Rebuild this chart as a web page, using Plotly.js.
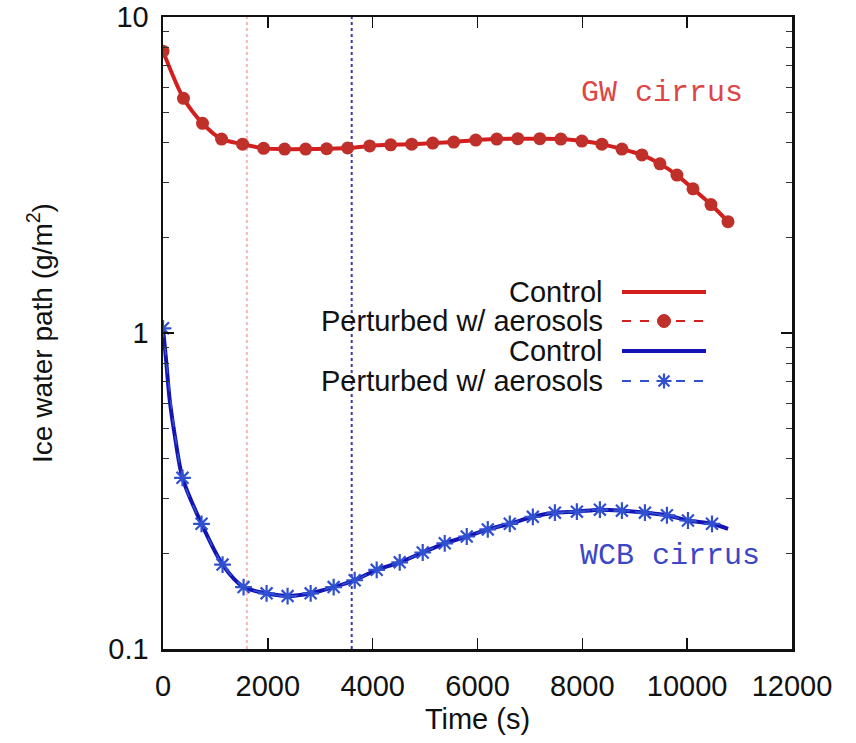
<!DOCTYPE html>
<html>
<head>
<meta charset="utf-8">
<script src="https://cdn.plot.ly/plotly-3.0.1.min.js"></script>
<style>html,body{margin:0;padding:0;background:#fff;}#chart{width:856px;height:743px;}</style>
</head>
<body>
<div id="chart"></div>
<script>
// ---- Data ----
const gwTime = [0, 391, 754, 1117, 1518, 1919, 2320, 2721, 3122, 3523, 3943, 4344, 4745, 5146, 5547, 5967, 6368, 6769, 7189, 7590, 7991, 8373, 8755, 9137, 9481, 9805, 10111, 10454, 10779];
const gwControl = [7.8, 5.53, 4.61, 4.11, 3.96, 3.84, 3.82, 3.82, 3.83, 3.85, 3.91, 3.94, 3.96, 3.99, 4.02, 4.08, 4.11, 4.12, 4.12, 4.11, 4.05, 3.96, 3.82, 3.66, 3.43, 3.16, 2.86, 2.55, 2.25];
const gwPerturbed = [7.8, 5.53, 4.61, 4.11, 3.96, 3.84, 3.82, 3.82, 3.83, 3.85, 3.91, 3.94, 3.96, 3.99, 4.02, 4.08, 4.11, 4.12, 4.12, 4.11, 4.05, 3.96, 3.82, 3.66, 3.43, 3.16, 2.86, 2.55, 2.25];

const wcbControlTime = [0, 61, 124, 220, 372, 735, 1136, 1537, 1976, 2377, 2817, 3256, 3657, 4077, 4516, 4955, 5375, 5795, 6196, 6616, 7056, 7476, 7896, 8335, 8755, 9194, 9614, 10015, 10474, 10780];
const wcbControl = [1.035, 0.815, 0.622, 0.48, 0.348, 0.249, 0.185, 0.157, 0.150, 0.147, 0.150, 0.157, 0.165, 0.178, 0.188, 0.202, 0.216, 0.227, 0.239, 0.249, 0.262, 0.270, 0.272, 0.276, 0.274, 0.270, 0.265, 0.255, 0.249, 0.240];
const wcbPertTime = [0, 372, 735, 1136, 1537, 1976, 2377, 2817, 3256, 3657, 4077, 4516, 4955, 5375, 5795, 6196, 6616, 7056, 7476, 7896, 8335, 8755, 9194, 9614, 10015, 10474];
const wcbPerturbed = [1.035, 0.348, 0.249, 0.185, 0.157, 0.150, 0.147, 0.150, 0.157, 0.165, 0.178, 0.188, 0.202, 0.216, 0.227, 0.239, 0.249, 0.262, 0.270, 0.272, 0.276, 0.274, 0.270, 0.265, 0.255, 0.249];

const refTimes = [1600, 3600];           // vertical dotted reference lines
const refColors = ['#f3b8b8', '#3a3aa8'];
const xTickVals = [0, 2000, 4000, 6000, 8000, 10000, 12000];
const yMajorTicks = [0.1, 1, 10];
const yMajorText = ['0.1', '1', '10'];
const yMinorTicks = [0.2, 0.3, 0.4, 0.5, 0.6, 0.7, 0.8, 0.9, 2, 3, 4, 5, 6, 7, 8, 9];
const legendLabels = ['Control', 'Perturbed w/ aerosols', 'Control', 'Perturbed w/ aerosols'];

const RED_LINE = '#d41f1f', RED_MK = '#c0302a';
const BLUE_LINE = '#1414b4', BLUE_MK = '#3050d0';
const SANS = 'Liberation Sans, Arial, sans-serif';
const MONO = 'Liberation Mono, Courier New, monospace';
const FS = 29;

const traces = [
  {x: gwTime, y: gwControl, mode: 'lines', line: {color: RED_LINE, width: 4, shape: 'spline', smoothing: 0.8}, showlegend: false},
  {x: gwTime, y: gwPerturbed, mode: 'lines+markers', line: {color: RED_LINE, width: 1.5, dash: 'dash', shape: 'spline', smoothing: 0.8},
   marker: {symbol: 'circle', size: 13, color: RED_MK}, showlegend: false},
  {x: wcbControlTime, y: wcbControl, mode: 'lines', line: {color: BLUE_LINE, width: 4, shape: 'spline', smoothing: 0.8}, showlegend: false},
  {x: wcbPertTime, y: wcbPerturbed, mode: 'lines+markers', line: {color: BLUE_MK, width: 1.5, dash: 'dash', shape: 'spline', smoothing: 0.8},
   marker: {symbol: 'asterisk-open', size: 14, color: BLUE_MK, line: {color: BLUE_MK, width: 2.2}}, showlegend: false}
];

// plot-area geometry (pixels) and helpers to paper coordinates
const M = {l: 163, r: 64, t: 17, b: 94};
const PW = 856 - M.l - M.r, PH = 743 - M.t - M.b;
const PX = p => (p - M.l) / PW;            // page x -> paper x
const PY = p => (743 - M.b - p) / PH;      // page y -> paper y
const px = v => v / PW, py = v => v / PH;

const shapes = refTimes.map((t, i) => ({
  type: 'line', xref: 'x', yref: 'paper', x0: t, x1: t, y0: 0, y1: 1,
  line: {color: refColors[i], width: 2, dash: 'dot'}, layer: 'below'
}));

// custom gnuplot-style legend (text then sample)
const rowY = [PY(292), PY(321), PY(351), PY(381)];
const sx0 = PX(622), sx1 = PX(706), smx = PX(664);
const legColors = [RED_LINE, RED_LINE, BLUE_LINE, BLUE_MK];
const annotations = [];
legendLabels.forEach((lab, i) => {
  annotations.push({xref: 'paper', yref: 'paper', x: PX(605), y: rowY[i], xanchor: 'right', yanchor: 'middle',
    text: lab, showarrow: false, font: {family: SANS, size: FS, color: '#111'}});
  const dashed = (i % 2 === 1);
  shapes.push({type: 'line', xref: 'paper', yref: 'paper', x0: sx0, x1: sx1, y0: rowY[i], y1: rowY[i],
    line: {color: legColors[i], width: dashed ? 2 : 4, dash: dashed ? 'dash' : 'solid'}});
});
// legend marker samples
shapes.push({type: 'circle', xref: 'paper', yref: 'paper', x0: smx - px(6.5), x1: smx + px(6.5), y0: rowY[1] - py(6.5), y1: rowY[1] + py(6.5),
  fillcolor: RED_MK, line: {color: RED_MK, width: 1}});
const ax = px(7.5), ay = py(7.5), dx = px(5.5), dy = py(5.5);
const yb = rowY[3];
shapes.push({type: 'path', xref: 'paper', yref: 'paper',
  path: `M ${smx - ax},${yb} L ${smx + ax},${yb} M ${smx},${yb - ay} L ${smx},${yb + ay} M ${smx - dx},${yb - dy} L ${smx + dx},${yb + dy} M ${smx - dx},${yb + dy} L ${smx + dx},${yb - dy}`,
  line: {color: BLUE_MK, width: 2.2}});

annotations.push({xref: 'paper', yref: 'paper', x: PX(662), y: PY(93), xanchor: 'center', yanchor: 'middle',
  text: 'GW cirrus', showarrow: false, font: {family: MONO, size: 30, color: '#dc4646'}});
annotations.push({xref: 'paper', yref: 'paper', x: PX(670), y: PY(556), xanchor: 'center', yanchor: 'middle',
  text: 'WCB cirrus', showarrow: false, font: {family: MONO, size: 30, color: '#3c46c8'}});

const layout = {
  width: 856, height: 743,
  margin: M,
  paper_bgcolor: '#fff', plot_bgcolor: '#fff',
  showlegend: false,
  font: {family: SANS, size: FS, color: '#111'},
  xaxis: {
    range: [0, 12000], tickvals: xTickVals, ticktext: xTickVals.map(String),
    ticks: 'inside', ticklen: 11, tickwidth: 1.5, tickcolor: '#111',
    showline: true, linecolor: '#111', linewidth: 2.5, mirror: 'ticks',
    showgrid: false, zeroline: false, ticklabelstandoff: 10, ticklabeloverflow: 'allow',
    tickfont: {family: SANS, size: FS, color: '#111'},
    title: {text: 'Time (s)', font: {family: SANS, size: FS, color: '#111'}, standoff: 8}
  },
  yaxis: {
    type: 'log', range: [-1.0001, 1.0001], tickvals: yMajorTicks, ticktext: yMajorText,
    ticks: 'inside', ticklen: 11, tickwidth: 1.5, tickcolor: '#111',
    minor: {tickvals: yMinorTicks, ticks: 'inside', ticklen: 6, tickwidth: 1, tickcolor: '#333', showgrid: false},
    showline: true, linecolor: '#111', linewidth: 2.5, mirror: 'ticks',
    showgrid: false, zeroline: false, ticklabelstandoff: 6, ticklabeloverflow: 'allow',
    tickfont: {family: SANS, size: FS, color: '#111'},
    title: {text: 'Ice water path (g/m<sup>2</sup>)', font: {family: SANS, size: FS - 1, color: '#111'}, standoff: 48}
  },
  shapes: shapes,
  annotations: annotations
};

Plotly.newPlot('chart', traces, layout, {displayModeBar: false, staticPlot: true});
</script>
</body>
</html>
